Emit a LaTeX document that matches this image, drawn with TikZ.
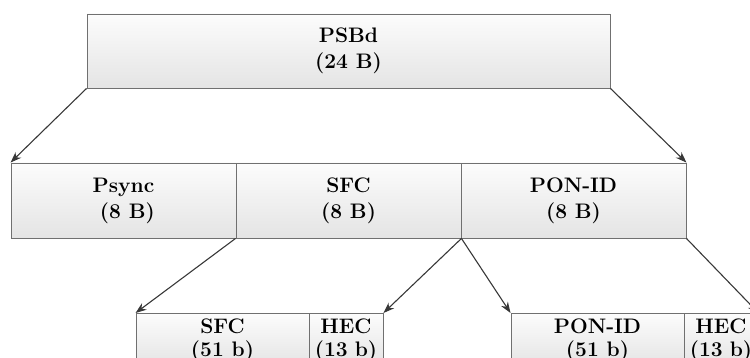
\documentclass[tikz,border=0pt]{standalone}
\usetikzlibrary{arrows.meta,shadows}
\definecolor{boxline}{HTML}{707070}
\definecolor{arrowline}{HTML}{383838}
\definecolor{fieldtop}{HTML}{FCFCFC}
\definecolor{fieldbottom}{HTML}{E4E4E4}
\begin{document}
\begin{tikzpicture}[x=1pt,y=-1pt,
  field/.style={draw=boxline, line width=0.9pt, top color=fieldtop, bottom color=fieldbottom,
    drop shadow={shadow xshift=0.8pt, shadow yshift=-1.2pt, fill=black, opacity=0.18},
    rectangle, inner sep=0pt, align=center,
    font=\fontsize{21}{26}\selectfont\bfseries},
  subfield/.style={field, anchor=north, inner ysep=5pt, font=\fontsize{21}{23}\selectfont\bfseries},
  split/.style={draw=arrowline, line width=1.1pt, -{Stealth[length=11pt,width=8pt]}}]
\useasboundingbox (0,0) rectangle (750,358);

% superframe header
\node[field, minimum width=523pt, minimum height=74pt] (psbd) at (348.5,51) {PSBd\\(24 B)};

% header fields
\node[field, minimum width=225pt, minimum height=75pt] (psync) at (123.5,200.5) {Psync\\~(8 B)};
\node[field, minimum width=225pt, minimum height=75pt] (sfc) at (348.5,200.5) {SFC\\(8 B)};
\node[field, minimum width=225pt, minimum height=75pt] (ponid) at (573.5,200.5) {PON-ID\\(8 B)};

% protected sub-fields
\node[subfield, minimum width=173pt] (sfcdata) at (222.5,313) {SFC\\(51 b)};
\node[subfield, minimum width=74pt, text width=74pt] (sfchec) at (346,313) {HEC\\(13 b)};
\node[subfield, minimum width=173pt] (pondata) at (597.5,313) {PON-ID\\(51 b)};
\node[subfield, minimum width=74pt, text width=74pt] (ponhec) at (721,313) {HEC\\(13 b)};

% expansion arrows
\draw[split] (psbd.south west) -- (psync.north west);
\draw[split] (psbd.south east) -- (ponid.north east);
\draw[split] (sfc.south west) -- (sfcdata.north west);
\draw[split] (sfc.south east) -- (sfchec.north east);
\draw[split] (sfc.south east) -- (pondata.north west);
\draw[split] (ponid.south east) -- (ponhec.north east);
\end{tikzpicture}
\end{document}
